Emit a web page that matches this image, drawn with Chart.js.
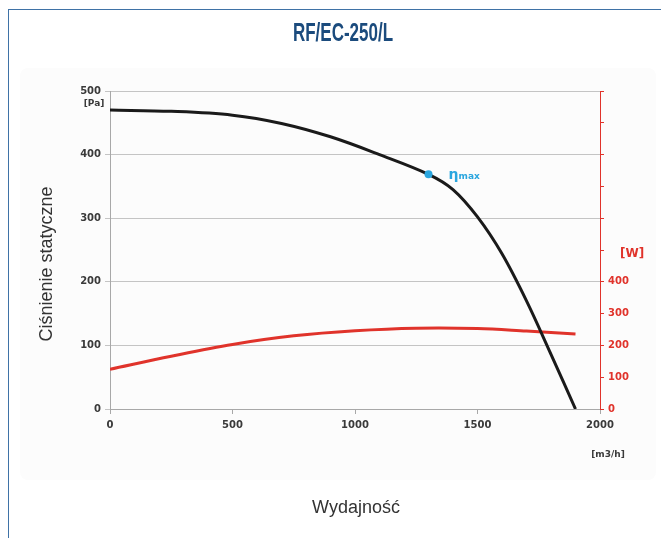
<!DOCTYPE html>
<html>
<head>
<meta charset="utf-8">
<script src="https://cdn.jsdelivr.net/npm/chart.js@4/dist/chart.umd.min.js"></script>
<style>
  html, body { margin: 0; padding: 0; background: #fff; overflow: hidden; }
  #frame {
    position: absolute; left: 8px; top: 9px; width: 700px; height: 600px;
    border: 1px solid #3f72a6; box-sizing: border-box;
  }
  #panel {
    position: absolute; left: 20px; top: 68px; width: 636px; height: 412px;
    background: #fcfcfc; border-radius: 8px;
  }
  #wrap { position: absolute; left: 0; top: 0; width: 661px; height: 538px; }
</style>
</head>
<body>
<div id="frame"></div>
<div id="panel"></div>
<div id="wrap"><canvas id="fanChart" width="661" height="538"></canvas></div>
<script>
// Fan curve RF/EC-250/L

// airflow [m3/h] for the pressure curve
const flowPressure = [0, 250, 500, 700, 900, 1100, 1300, 1400, 1500, 1600, 1700, 1800, 1900];
// static pressure [Pa]
const pressure = [470, 468, 462, 449, 428, 400, 369, 345, 302, 244, 170, 86, 0];

// airflow [m3/h] for the power curve
const flowPower = [0, 250, 500, 750, 1000, 1250, 1500, 1700, 1900];
// power [W]
const power = [125, 166, 203, 230, 246, 254, 253, 245, 236];

// max efficiency point
const etaFlow = [1300];
const etaPressure = [369];

const xTicks = [0, 500, 1000, 1500, 2000];
const paTicks = [0, 100, 200, 300, 400, 500];
const wTicks = [0, 100, 200, 300, 400, 500, 600, 700, 800, 900, 1000];

const toPoints = (xs, ys) => xs.map((x, i) => ({ x: x, y: ys[i] }));

const tickFont = { family: "'DejaVu Sans', sans-serif", size: 10, weight: "bold" };

// ----------------------------------
// Texts around the plot
// ----------------------------------
const textsPlugin = {
  id: "texts",
  afterDraw(chart) {
    const ctx = chart.ctx;
    ctx.save();

    // title (condensed)
    ctx.save();
    ctx.fillStyle = "#1b4b7d";
    ctx.font = "bold 25px 'Liberation Sans', sans-serif";
    ctx.textAlign = "center";
    ctx.textBaseline = "middle";
    ctx.translate(343, 34);
    ctx.scale(0.68, 1);
    ctx.fillText("RF/EC-250/L", 0, 0);
    ctx.restore();

    ctx.textBaseline = "middle";
    ctx.textAlign = "center";

    // units
    ctx.fillStyle = "#3a3a3a";
    ctx.font = "bold 9px 'DejaVu Sans', sans-serif";
    ctx.fillText("[Pa]", 94, 104);
    ctx.fillText("[m3/h]", 608, 455);

    ctx.fillStyle = "#e0332b";
    ctx.font = "bold 12px 'DejaVu Sans', sans-serif";
    const yW = chart.scales.yW;
    ctx.textAlign = "left";
    ctx.fillText("[W]", 620, yW.getPixelForValue(500) + 4);

    // axis titles
    ctx.fillStyle = "#333";
    ctx.font = "18px 'Liberation Sans', Arial, sans-serif";
    ctx.textAlign = "center";
    ctx.fillText("Wydajność", 356, 508);
    ctx.save();
    ctx.translate(47, 264);
    ctx.rotate(-Math.PI / 2);
    ctx.fillText("Ciśnienie statyczne", 0, 0);
    ctx.restore();

    // eta max label
    const x = chart.scales.x.getPixelForValue(etaFlow[0]);
    const y = chart.scales.y.getPixelForValue(etaPressure[0]);
    ctx.fillStyle = "#2aa6df";
    ctx.textAlign = "left";
    ctx.font = "bold 14px 'DejaVu Sans', sans-serif";
    ctx.fillText("η", x + 20, y + 1);
    ctx.font = "bold 9px 'DejaVu Sans', sans-serif";
    ctx.fillText("max", x + 30, y + 2);

    ctx.restore();
  }
};

new Chart(document.getElementById("fanChart"), {
  type: "line",
  data: {
    datasets: [
      {
        label: "eta max",
        data: toPoints(etaFlow, etaPressure),
        yAxisID: "y",
        showLine: false,
        pointRadius: 4,
        pointBackgroundColor: "#2aa6df",
        pointBorderWidth: 0,
        order: 0
      },
      {
        label: "Pressure",
        data: toPoints(flowPressure, pressure),
        yAxisID: "y",
        borderColor: "#1a1a1a",
        borderWidth: 3,
        pointRadius: 0,
        tension: 0.35,
        order: 1
      },
      {
        label: "Power",
        data: toPoints(flowPower, power),
        yAxisID: "yW",
        borderColor: "#e0332b",
        borderWidth: 3,
        pointRadius: 0,
        tension: 0.35,
        order: 2
      }
    ]
  },
  options: {
    responsive: false,
    animation: false,
    layout: { padding: { top: 91, left: 0, right: 0, bottom: 0 } },
    plugins: {
      legend: { display: false },
      tooltip: { enabled: false }
    },
    scales: {
      x: {
        type: "linear",
        min: 0,
        max: 2000,
        afterBuildTicks: s => { s.ticks = xTicks.map(v => ({ value: v })); },
        afterFit: s => { s.height = 129; },
        grid: { drawOnChartArea: false, color: "#a8a8a8", tickLength: 5 },
        border: { color: "#a8a8a8" },
        ticks: { color: "#3a3a3a", padding: 5, font: tickFont, callback: v => String(v) }
      },
      y: {
        position: "left",
        min: 0,
        max: 500,
        afterBuildTicks: s => { s.ticks = paTicks.map(v => ({ value: v })); },
        afterFit: s => { s.width = 110; },
        grid: { color: "#c4c4c4", tickLength: 5 },
        border: { color: "#a8a8a8" },
        ticks: { color: "#3a3a3a", padding: 4, font: tickFont, callback: v => String(v) }
      },
      yW: {
        position: "right",
        min: 0,
        max: 1000,
        afterBuildTicks: s => { s.ticks = wTicks.map(v => ({ value: v })); },
        afterFit: s => { s.width = 61; },
        grid: { drawOnChartArea: false, color: "#e0332b", tickLength: 4 },
        border: { color: "#e0332b" },
        ticks: {
          color: "#e0332b",
          padding: 4,
          font: tickFont,
          callback: v => (v <= 400 ? String(v) : "")
        }
      }
    }
  },
  plugins: [textsPlugin]
});
</script>
</body>
</html>
